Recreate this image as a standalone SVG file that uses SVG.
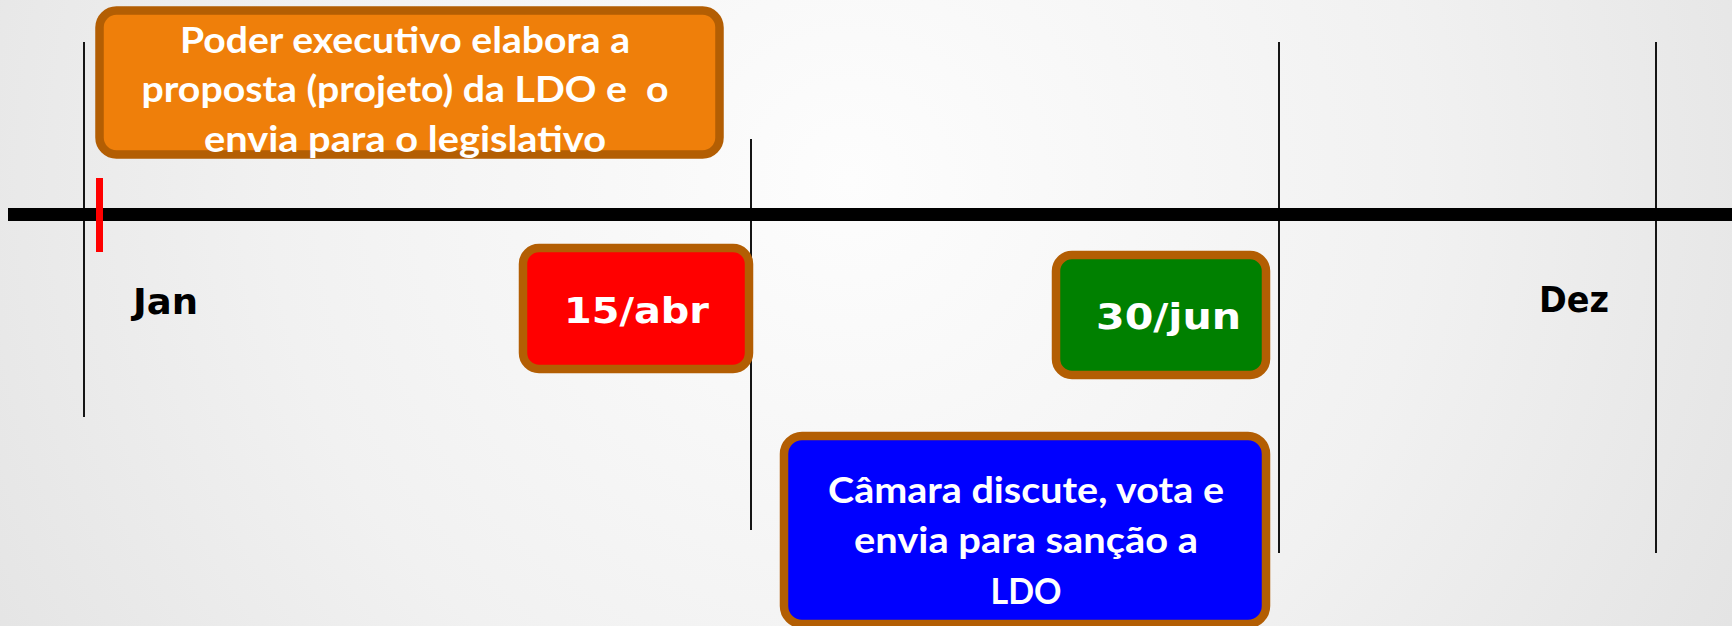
<svg xmlns="http://www.w3.org/2000/svg" width="1732" height="626" viewBox="0 0 1732 626">
<defs>
<radialGradient id="bg" cx="850" cy="180" r="1050" gradientUnits="userSpaceOnUse">
<stop offset="0" stop-color="#fdfdfd"/>
<stop offset="0.55" stop-color="#f1f1f1"/>
<stop offset="1" stop-color="#e2e2e2"/>
</radialGradient>
<style>
.box{stroke:#B35E03;stroke-width:8.5}
.cal{font-family:Lato,"Open Sans","Liberation Sans",sans-serif;font-weight:bold;fill:#fff;font-size:36px;text-anchor:middle}
.ver{font-family:"DejaVu Sans",Verdana,sans-serif;font-weight:bold;font-size:36px}
.tick{stroke:#151515;stroke-width:2}
</style>
</defs>
<rect width="1732" height="626" fill="url(#bg)"/>
<g id="timeline">
<line class="tick" x1="84" y1="42" x2="84" y2="417"/>
<line class="tick" x1="751" y1="139" x2="751" y2="530"/>
<line class="tick" x1="1279" y1="42" x2="1279" y2="553"/>
<line class="tick" x1="1656" y1="42" x2="1656" y2="553"/>
<rect x="8" y="208" width="1724" height="13" fill="#000"/>
<rect x="96" y="178" width="7" height="74" fill="#FF0000"/>
</g>
<g id="jan"><text class="ver" x="133" y="314" textLength="65" lengthAdjust="spacingAndGlyphs" fill="#000">Jan</text></g>
<g id="dez"><text class="ver" x="1539" y="312" textLength="70" lengthAdjust="spacingAndGlyphs" fill="#000">Dez</text></g>
<g id="executivo">
<rect class="box" x="99.5" y="10.5" width="620" height="144" rx="17" fill="#EF7F0A"/>
<text class="cal" x="405" y="53" textLength="450" lengthAdjust="spacingAndGlyphs">Poder executivo elabora a</text>
<text class="cal" x="405" y="102" textLength="527" lengthAdjust="spacingAndGlyphs">proposta (projeto) da LDO e&#160; o</text>
<text class="cal" x="405" y="152" textLength="402" lengthAdjust="spacingAndGlyphs">envia para o legislativo</text>
</g>
<g id="abr">
<rect class="box" x="523" y="248" width="226" height="121" rx="16" fill="#FF0000"/>
<text class="ver" x="564" y="323" textLength="145" lengthAdjust="spacingAndGlyphs" fill="#fff">15/abr</text>
</g>
<g id="jun">
<rect class="box" x="1056" y="255" width="210" height="120" rx="16" fill="#008000"/>
<text class="ver" x="1096" y="329" textLength="145" lengthAdjust="spacingAndGlyphs" fill="#fff">30/jun</text>
</g>
<g id="camara">
<rect class="box" x="784" y="436" width="482" height="188" rx="18" fill="#0000FF"/>
<text class="cal" x="1026" y="503" textLength="396" lengthAdjust="spacingAndGlyphs">Câmara discute, vota e</text>
<text class="cal" x="1026" y="553" textLength="344" lengthAdjust="spacingAndGlyphs">envia para sanção a</text>
<text class="cal" x="1026" y="604" textLength="71" lengthAdjust="spacingAndGlyphs">LDO</text>
</g>
</svg>
